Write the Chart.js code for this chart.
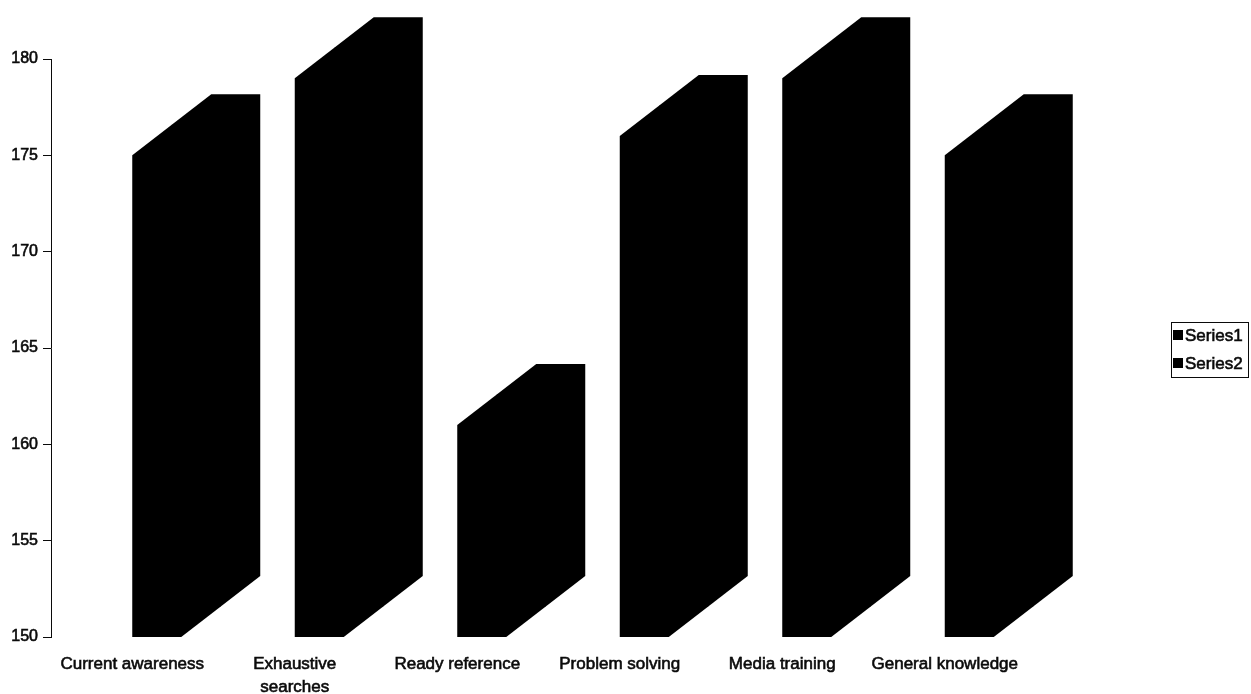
<!DOCTYPE html>
<html>
<head>
<meta charset="utf-8">
<script src="https://cdn.jsdelivr.net/npm/chart.js@4/dist/chart.umd.min.js"></script>
<style>
  body { margin: 0; background: #fff; }
  #wrap { width: 1251px; height: 694px; }
</style>
</head>
<body>
<div id="wrap"><canvas id="chart" width="1251" height="694"></canvas></div>
<script>
const categories = ['Current awareness', ['Exhaustive', 'searches'], 'Ready reference', 'Problem solving', 'Media training', 'General knowledge'];
const series1 = [175, 179, 161, 176, 179, 175];
const series2 = [175, 179, 161, 176, 179, 175];
const yTicks = [150, 155, 160, 165, 170, 175, 180];

const FONT = '"Liberation Sans", Arial, Helvetica, sans-serif';
const INK = '#0a0a0a';

// 3-D look: front face width and full depth shift, in pixels
const FRONT_W = 49;
const DEPTH_X = 79;
const DEPTH_Y = -61;

function prism(ctx, left, top, base, ox, oy, ex, ey) {
  ctx.beginPath();
  ctx.moveTo(left + ox, base + oy);
  ctx.lineTo(left + ox, top + oy);
  ctx.lineTo(left + ox + ex, top + oy + ey);
  ctx.lineTo(left + ox + FRONT_W + ex, top + oy + ey);
  ctx.lineTo(left + ox + FRONT_W + ex, base + oy + ey);
  ctx.lineTo(left + ox + FRONT_W, base + oy);
  ctx.closePath();
  ctx.fill();
}

const columns3d = {
  id: 'columns3d',
  afterDatasetsDraw(chart) {
    const ctx = chart.ctx;
    const xs = chart.scales.x, ys = chart.scales.y;
    const base = ys.getPixelForValue(ys.min);
    const n = chart.data.datasets.length;
    ctx.save();
    // back series first so the front one sits over it
    for (let d = n - 1; d >= 0; d--) {
      const ds = chart.data.datasets[d];
      ctx.fillStyle = ds.prismColor;
      const f0 = d / n, f1 = (d + 1) / n;
      ds.data.forEach((v, i) => {
        const left = xs.getPixelForValue(i);
        const top = ys.getPixelForValue(v);
        prism(ctx, left, top, base,
          DEPTH_X * f0, DEPTH_Y * f0,
          DEPTH_X * (f1 - f0), DEPTH_Y * (f1 - f0));
      });
    }
    ctx.restore();
  }
};

const boxLegend = {
  id: 'boxLegend',
  afterDraw(chart) {
    const ctx = chart.ctx;
    const x = 1171.5, y = 322.5, w = 77, h = 55;
    ctx.save();
    ctx.strokeStyle = INK;
    ctx.lineWidth = 1;
    ctx.strokeRect(x, y, w, h);
    ctx.font = '17px ' + FONT;
    ctx.textBaseline = 'middle';
    ctx.lineWidth = 0.6;
    chart.data.datasets.forEach((ds, i) => {
      const cy = 335 + i * 28;
      ctx.fillStyle = ds.prismColor;
      ctx.fillRect(1173, cy - 5, 10, 10);
      ctx.fillStyle = INK;
      ctx.fillText(ds.label, 1185, cy + 1);
      ctx.strokeText(ds.label, 1185, cy + 1);
    });
    ctx.restore();
  }
};

new Chart(document.getElementById('chart'), {
  type: 'bar',
  data: {
    labels: categories,
    datasets: [
      { label: 'Series1', data: series1, prismColor: '#000', backgroundColor: 'rgba(0,0,0,0)' },
      { label: 'Series2', data: series2, prismColor: '#000', backgroundColor: 'rgba(0,0,0,0)' }
    ]
  },
  options: {
    responsive: false,
    animation: false,
    layout: { padding: { top: 59, right: 225, bottom: 0, left: 0 } },
    plugins: {
      legend: { display: false },
      tooltip: { enabled: false }
    },
    scales: {
      x: {
        afterFit(scale) { scale.height = 57; },
        grid: { display: false },
        border: { display: false },
        ticks: {
          color: INK,
          font: { family: FONT, size: 17, lineHeight: 1.35 },
          textStrokeColor: INK,
          textStrokeWidth: 0.6,
          padding: 8,
          maxRotation: 0,
          autoSkip: false
        }
      },
      y: {
        min: 150,
        max: 180,
        afterBuildTicks(scale) {
          scale.ticks = yTicks.map(v => ({ value: v }));
        },
        afterFit(scale) { scale.width = 51; },
        grid: { drawOnChartArea: false, color: INK, tickLength: 8 },
        border: { color: INK, width: 1 },
        ticks: {
          color: INK,
          font: { family: FONT, size: 16 },
          textStrokeColor: INK,
          textStrokeWidth: 0.6,
          padding: 5
        }
      }
    }
  },
  plugins: [columns3d, boxLegend]
});
</script>
</body>
</html>
